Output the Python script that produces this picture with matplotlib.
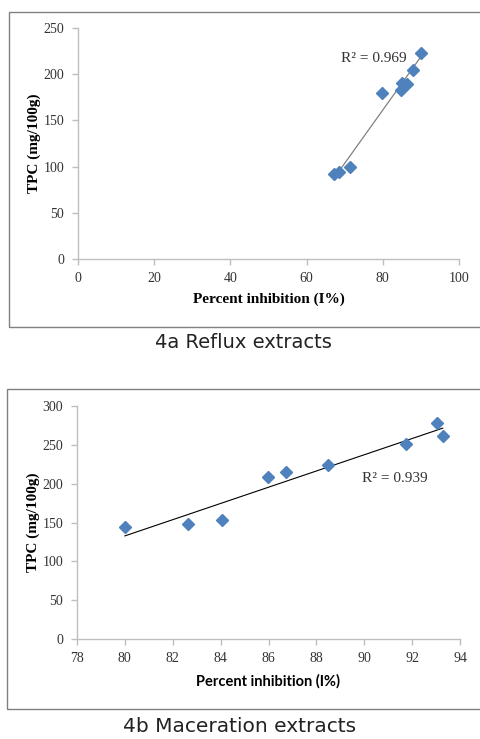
import numpy as np
import matplotlib
matplotlib.use("Agg")
import matplotlib.pyplot as plt
from matplotlib.patches import Rectangle

# Data: 4a Reflux extracts
reflux_x = [67.2, 68.5, 71.5, 79.8, 84.7, 85.1, 86.4, 87.8, 90.0]
reflux_y = [92, 94, 100, 180, 183, 191, 189, 205, 223]
reflux_r2 = "R\u00b2 = 0.969"

# Data: 4b Maceration extracts
mac_x = [80.0, 82.65, 84.07, 85.97, 86.73, 88.48, 91.75, 93.05, 93.28]
mac_y = [144, 148, 153, 209, 215, 224, 251, 278, 262]
mac_r2 = "R\u00b2 = 0.939"

reflux_xticks = [0, 20, 40, 60, 80, 100]
reflux_yticks = [0, 50, 100, 150, 200, 250]
mac_xticks = [78, 80, 82, 84, 86, 88, 90, 92, 94]
mac_yticks = [0, 50, 100, 150, 200, 250, 300]

W, H = 480, 739
fig = plt.figure(figsize=(W / 100, H / 100), dpi=100)

serif = "Liberation Serif"
marker_color = "#4F81BD"
spine_color = "#BFBFBF"


def fx(px):
    return px / W


def fy(py):
    return 1 - py / H


# frames
fig.patches.append(Rectangle((fx(9), fy(327)), 1.2, (327 - 12) / H, transform=fig.transFigure,
                             fill=False, edgecolor="#808080", lw=1.0))
fig.patches.append(Rectangle((fx(7), fy(709)), 1.2, (709 - 389) / H, transform=fig.transFigure,
                             fill=False, edgecolor="#808080", lw=1.0))


def style_axes(ax, xticks, yticks):
    for s in ["top", "right"]:
        ax.spines[s].set_visible(False)
    for s in ["left", "bottom"]:
        ax.spines[s].set_color(spine_color)
        ax.spines[s].set_linewidth(1.0)
    ax.set_xticks(xticks)
    ax.set_yticks(yticks)
    ax.set_xlim(xticks[0], xticks[-1])
    ax.set_ylim(yticks[0], yticks[-1])
    ax.tick_params(axis="both", color=spine_color, length=4, width=1.0,
                   labelsize=10, labelcolor="#333333")
    ax.tick_params(axis="x", pad=5)
    ax.tick_params(axis="y", pad=6)
    for lab in ax.get_xticklabels() + ax.get_yticklabels():
        lab.set_family(serif)


# Top panel
ax1 = fig.add_axes([fx(78), fy(259), (459 - 78) / W, (259 - 28) / H])
style_axes(ax1, reflux_xticks, reflux_yticks)
c1 = np.polyfit(reflux_x, reflux_y, 1)
xl1 = np.array([min(reflux_x), max(reflux_x)])
ax1.plot(xl1, np.polyval(c1, xl1), color="#808080", lw=0.9, zorder=2)
ax1.plot(reflux_x, reflux_y, "D", color=marker_color, ms=6.5, mec=marker_color, zorder=3)
ax1.text(69.0, 217.5, reflux_r2, family=serif, fontsize=11, color="#333333", va="center")
ax1.set_xlabel("Percent inhibition (I%)", family=serif, fontweight="bold", fontsize=11, labelpad=6)
ax1.set_ylabel("TPC (mg/100g)", family=serif, fontweight="bold", fontsize=11, labelpad=2)

# Bottom panel
ax2 = fig.add_axes([fx(77), fy(639), (460 - 77) / W, (639 - 406) / H])
style_axes(ax2, mac_xticks, mac_yticks)
c2 = np.polyfit(mac_x, mac_y, 1)
xl2 = np.array([min(mac_x), max(mac_x)])
ax2.plot(xl2, np.polyval(c2, xl2), color="#000000", lw=0.8, zorder=2)
ax2.plot(mac_x, mac_y, "D", color=marker_color, ms=6.5, mec=marker_color, zorder=3)
ax2.text(89.9, 207, mac_r2, family=serif, fontsize=11, color="#333333", va="center")
ax2.set_xlabel("Percent inhibition (I%)", family="Lato", fontweight="bold", fontsize=10.5, labelpad=7)
ax2.set_ylabel("TPC (mg/100g)", family=serif, fontweight="bold", fontsize=11, labelpad=2)

# captions
fig.text(fx(243), fy(343), "4a Reflux extracts", ha="center", va="center", fontsize=14,
         family="DejaVu Sans", color="#222222")
fig.text(fx(240), fy(727), "4b Maceration extracts", ha="center", va="center", fontsize=14.5,
         family="DejaVu Sans", color="#222222")

fig.savefig("out.png", dpi=100)
